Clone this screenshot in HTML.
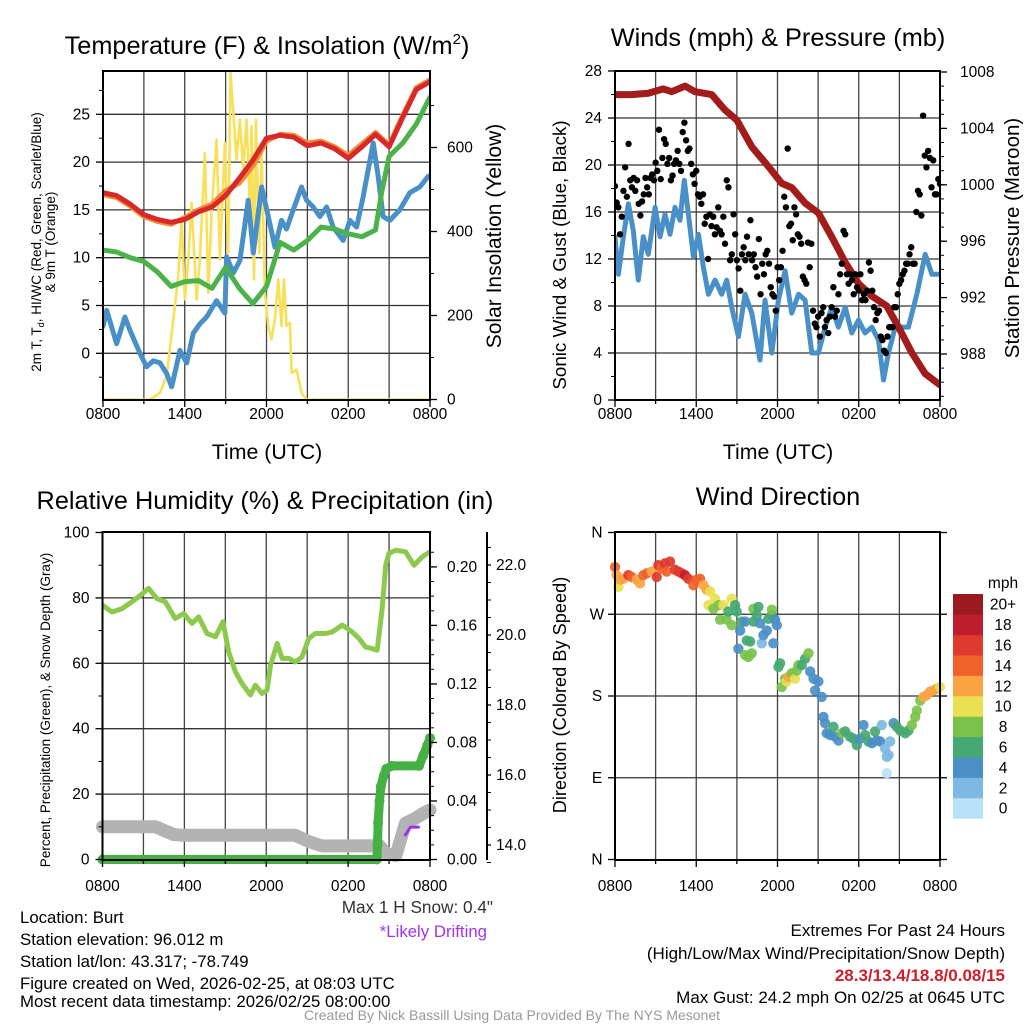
<!DOCTYPE html>
<html><head><meta charset="utf-8"><style>
html,body{margin:0;padding:0;background:#fff;}
svg{display:block;font-family:"Liberation Sans",Arial,sans-serif;}
</style></head><body>
<svg id="chart" width="1024" height="1024" viewBox="0 0 1024 1024" xmlns="http://www.w3.org/2000/svg">
<rect x="0" y="0" width="1024" height="1024" fill="#fff"/>
<text x="267" y="54" font-size="25.3" text-anchor="middle">Temperature (F) &amp; Insolation (W/m<tspan font-size="15" dy="-10">2</tspan><tspan dy="10">)</tspan></text>
<text x="778" y="46" font-size="25.3" text-anchor="middle">Winds (mph) &amp; Pressure (mb)</text>
<text x="265" y="509" font-size="25.3" text-anchor="middle">Relative Humidity (%) &amp; Precipitation (in)</text>
<text x="778" y="505" font-size="25.3" text-anchor="middle">Wind Direction</text>
<text x="267" y="459" font-size="21.3" text-anchor="middle">Time (UTC)</text>
<text x="778" y="459" font-size="21.3" text-anchor="middle">Time (UTC)</text>
<text transform="rotate(-90 41 242)" x="41" y="242" font-size="13.5" text-anchor="middle">2m T, T<tspan font-size="9" dy="3">d</tspan><tspan dy="-3">, HI/WC (Red, Green, Scarlet/Blue)</tspan></text>
<text transform="rotate(-90 55 242)" x="55" y="242" font-size="13.5" text-anchor="middle">&amp; 9m T (Orange)</text>
<text transform="rotate(-90 501 236)" x="501" y="236" font-size="21" text-anchor="middle">Solar Insolation (Yellow)</text>
<text transform="rotate(-90 566 255)" x="566" y="255" font-size="18.8" text-anchor="middle">Sonic Wind &amp; Gust (Blue, Black)</text>
<text transform="rotate(-90 1019 238)" x="1019" y="238" font-size="20.5" text-anchor="middle">Station Pressure (Maroon)</text>
<text transform="rotate(-90 50 710)" x="50" y="710" font-size="13.5" text-anchor="middle">Percent, Precipitation (Green), &amp; Snow Depth (Gray)</text>
<text transform="rotate(-90 566 695)" x="566" y="695" font-size="18.2" text-anchor="middle">Direction (Colored By Speed)</text>
<text x="493" y="913" font-size="17.2" fill="#333" text-anchor="end">Max 1 H Snow: 0.4"</text>
<text x="487" y="937" font-size="16.8" fill="#a233f0" text-anchor="end">*Likely Drifting</text>
<g font-size="16.8">
<text x="20" y="923">Location: Burt</text>
<text x="20" y="945">Station elevation: 96.012 m</text>
<text x="20" y="967">Station lat/lon: 43.317; -78.749</text>
<text x="20" y="989">Figure created on Wed, 2026-02-25, at 08:03 UTC</text>
<text x="20" y="1007">Most recent data timestamp: 2026/02/25 08:00:00</text>
</g>
<g font-size="17" text-anchor="end">
<text x="1005" y="936">Extremes For Past 24 Hours</text>
<text x="1005" y="959">(High/Low/Max Wind/Precipitation/Snow Depth)</text>
<text x="1005" y="981" font-weight="bold" fill="#d0202a">28.3/13.4/18.8/0.08/15</text>
<text x="1005" y="1003">Max Gust: 24.2 mph On 02/25 at 0645 UTC</text>
</g>
<text x="512" y="1020" font-size="14" fill="#999" text-anchor="middle">Created By Nick Bassill Using Data Provided By The NYS Mesonet</text>
<text x="1003" y="588" font-size="15.5" text-anchor="middle">mph</text>
<g id="layer"></g>
</svg>
<script>
// ---------- data ----------
const timeTickLabels = ["0800","1400","2000","0200","0800"];
const timeTickHours = [0,6,12,18,24];
const tempTicks = [0,5,10,15,20,25];
const insolTicks = [0,200,400,600];
const windTicks = [0,4,8,12,16,20,24,28];
const presTicks = [988,992,996,1000,1004,1008];
const rhTicks = [0,20,40,60,80,100];
const precipTicks = [0,0.04,0.08,0.12,0.16,0.20];
const snowTicks = [14,16,18,20,22];
const dirTicks = [0,90,180,270,360];
const dirTickLabels = ["N","E","S","W","N"];
const speedBins = ["0","2","4","6","8","10","12","14","16","18","20+"];
const speedColors = ["#b8e2f7","#7db9e3","#4a8fc6","#46a872","#7bc24a","#e9e053","#f8a443","#f0622a","#de3a2d","#be1e2d","#9b1a1f"];

const tHours = [0,1,2,3,4,5,6,7,8,9,10,11,12,13,14,15,16,17,18,19,20,21,22,23,24];
const tempRed = [16.8,16.5,15.6,14.5,14.0,13.7,14.0,14.8,15.3,16.5,18.3,20.2,22.5,22.8,22.6,21.7,22.0,21.4,20.4,21.6,22.9,21.6,24.7,27.6,28.4];
const tempOrange = [16.6,16.3,15.4,14.3,13.8,13.5,14.2,15.0,15.6,17.0,17.8,19.6,22.2,22.9,22.8,22.0,22.2,21.6,20.7,21.9,23.1,21.8,24.9,27.8,28.6];
const dewHours = [0,1,2,3,4,5,6,7,8,9,10,11,12,13,14,15,16,17,18,19,20,20.45,21,22,23,24];
const dewGreen = [10.8,10.6,10.0,9.6,8.5,7.0,7.5,7.6,6.8,9.0,6.8,5.2,7.0,11.6,10.8,11.8,13.2,13.0,12.5,12.2,12.9,16.8,20.6,22.0,24.0,26.8];
const wcHours = [0,0.27,1.0,1.61,1.98,2.71,3.2,3.69,4.18,4.67,5.04,5.65,6.14,6.63,7.12,7.6,8.34,8.95,9.07,9.56,10.05,10.66,11.03,11.64,12.13,12.62,13.1,13.47,13.96,14.57,14.94,15.43,15.92,16.41,16.89,17.63,18.12,18.61,19.1,19.83,20.2,20.56,21.05,21.78,22.52,23.25,23.86];
const wcBlue = [2.8,4.5,1.0,3.8,2.4,0.0,-1.4,-0.8,-1.0,-2.1,-3.5,0.3,-1.0,2.1,3.1,3.8,5.5,4.2,10.1,8.4,9.7,16.0,10.5,17.4,14.3,11.1,13.9,13.0,15.0,17.4,16.0,15.3,14.3,15.3,13.2,11.8,13.9,13.2,16.4,22.0,18.5,14.3,13.9,15.0,16.8,17.4,18.5];
const solHours = [0,3.45,4.18,4.67,5.16,5.53,5.77,6.01,6.26,6.5,6.87,7.11,7.48,7.73,7.97,8.34,8.58,8.95,9.19,9.36,9.56,9.8,10.05,10.29,10.54,10.78,10.9,11.08,11.22,11.47,11.64,11.88,12.13,12.37,12.62,12.86,13.1,13.28,13.47,13.72,13.84,14.21,14.57,14.94,24];
const solar = [0,0,16,56,190,294,428,238,333,468,238,333,587,254,452,619,333,611,349,778,683,571,667,548,667,452,651,286,667,349,587,254,175,143,190,286,175,286,175,183,63,71,16,0,0];

const sonicHours = [0,0.25,0.62,0.99,1.35,1.72,2.09,2.46,2.96,3.33,3.69,4.06,4.43,4.8,5.12,5.42,5.79,6.16,6.53,6.9,7.39,7.88,8.25,8.62,9.11,9.61,10.1,10.71,11.08,11.58,12.07,12.56,13.05,13.55,14.04,14.53,15.02,15.52,16.01,16.5,17.0,17.49,17.98,18.47,18.97,19.46,19.83,20.2,20.69,21.18,21.67,22.29,22.91,23.4,24];
const sonic = [13.9,10.7,13.9,16.7,14.4,10.2,13.9,12.4,16.4,13.9,15.8,14.1,16.4,15.3,18.7,15.8,12.2,14.1,11.3,9.0,10.2,9.0,10.2,7.9,5.4,9.0,7.4,3.4,8.5,4.0,8.5,11.0,7.4,9.0,8.5,4.0,4.0,6.2,7.9,6.2,7.9,5.7,6.8,5.7,6.2,5.1,1.7,4.0,6.2,6.2,6.2,9.0,12.4,10.7,10.7];
const presHours = [0,1.23,2.46,3.57,4.19,5.17,5.91,7.14,8.13,8.99,10.1,11.33,12.32,13.05,14.04,15.02,16.01,17.0,17.98,18.97,20.07,20.94,21.92,22.91,24];
const pressure = [1006.4,1006.4,1006.5,1006.8,1006.6,1007.0,1006.6,1006.4,1005.3,1004.6,1002.7,1001.3,1000.1,999.8,998.7,998.0,996.3,994.5,993.0,992.1,991.4,989.9,988.1,986.6,985.8];
const gusts = [18.2,16.8,16.4,14.1,15.6,17.8,19.8,17.3,21.8,18.7,18.1,18.9,17.8,18.7,16.7,15.7,16.9,17.5,18.9,18.1,17.5,18.9,19.2,18.7,20.2,19.5,23.0,18.8,20.6,22.2,21.8,20.1,20.6,18.7,19.1,20.1,20.4,21.2,20.1,19.5,22.8,23.6,22.1,21.2,21.4,20.1,19.2,18.4,19.5,17.5,17.3,16.7,17.5,15.0,15.6,12.0,15.8,14.8,15.6,14.1,14.7,16.4,14.4,14.1,15.6,13.3,18.7,18.1,11.9,12.4,15.8,14.1,11.9,11.2,9.3,12.4,13.0,11.9,13.9,12.4,15.3,11.9,12.4,11.3,10.5,13.7,9.0,11.6,10.7,12.4,12.7,11.6,9.6,9.0,8.8,7.6,11.3,10.2,11.3,12.7,17.3,16.4,21.4,14.8,15.0,13.6,16.4,15.8,14.1,13.9,13.3,10.5,10.2,9.9,13.4,11.3,13.3,7.6,6.5,6.2,7.1,5.4,7.4,7.9,6.2,6.8,5.7,7.1,7.9,9.6,7.1,7.6,9.0,10.7,11.6,14.4,14.1,10.7,9.9,10.7,10.2,9.0,10.7,9.6,9.3,10.7,8.5,9.0,8.5,9.3,11.7,11.0,9.3,7.9,6.8,7.4,7.6,5.4,5.1,4.2,4.0,5.4,6.2,6.2,6.2,7.9,7.9,9.0,9.9,10.2,10.7,11.0,11.6,11.6,12.4,13.0,11.6,11.6,16.0,17.8,17.5,15.7,24.2,20.8,19.8,21.2,20.6,18.1,20.4,17.5,17.5,18.8,18.4];

const rhHours = [0,0.69,1.42,2.15,2.64,3.38,3.99,4.6,5.33,5.95,6.56,7.05,7.66,8.27,8.83,9.25,9.74,10.23,10.84,11.2,11.69,12.06,12.31,12.8,13.16,13.65,14.14,14.63,15.12,15.6,16.34,16.83,17.57,18.3,18.79,19.28,19.77,20.13,20.5,20.75,20.99,21.48,22.21,22.83,23.44,24];
const rh = [77.8,75.7,76.7,78.8,80.3,82.9,79.8,78.8,73.7,75.2,72.2,74.2,69.1,68.1,72.7,63.5,57.4,53.8,50.3,53.3,50.8,51.8,59.4,66.1,61.5,61.5,60.4,62.0,67.6,69.1,69.1,69.6,71.7,69.6,67.6,65.0,64.5,64.0,76.8,90.0,93.6,94.6,94.1,90.0,92.6,94.1];
const precipHours = [0,20.1,20.15,20.2,20.3,20.4,20.6,20.8,21.2,23.2,23.5,23.8,24];
const precip = [0,0,0.01,0.025,0.04,0.05,0.057,0.062,0.064,0.064,0.071,0.078,0.083];
const snowHours = [0,3.9,4.6,5.2,5.8,14.1,15.1,16.1,20.3,20.8,21.5,22.2,22.9,23.7,24];
const snowDepth = [14.52,14.52,14.4,14.3,14.28,14.28,14.1,13.97,13.98,13.75,13.7,14.62,14.76,14.95,15.0];
const driftHours = [22.2,22.57,23.16];
const driftDepth = [14.29,14.51,14.51];

const dirHours = [0,.12,.25,.37,.62,.99,1.23,1.6,1.85,2.09,2.34,2.71,3.08,3.2,3.45,3.69,3.82,4.06,4.43,4.68,4.93,5.17,5.42,5.79,6.03,6.28,6.53,6.77,7.02,6.9,7.27,7.39,7.64,7.76,8.0,8.25,8.37,8.62,8.62,8.87,8.99,9.11,9.24,9.36,9.61,9.73,9.98,9.61,9.85,10.1,10.22,10.47,10.59,10.22,10.71,10.84,10.96,11.21,11.33,11.58,11.58,11.82,11.95,11.7,12.07,12.19,12.32,12.56,12.68,12.81,13.05,13.3,13.42,13.55,13.79,14.04,14.29,14.41,14.66,14.78,15.02,15.27,15.39,15.52,15.64,15.89,16.13,16.26,16.5,16.75,17.0,17.36,17.61,17.86,18.1,18.35,18.47,18.72,18.97,19.21,19.33,19.58,19.7,19.95,20.07,20.2,20.32,20.07,20.57,20.81,21.06,21.43,21.67,21.92,22.17,22.29,22.54,22.78,23.03,23.28,23.52,23.77,24];
const dirDeg = [322,313,300,308,309,313,311,308,304,313,315,317,311,324,320,326,317,328,319,317,315,313,309,302,308,309,302,297,295,280,276,287,280,264,280,264,273,287,258,280,273,232,252,262,262,241,240,225,223,227,276,269,278,262,260,238,247,252,265,269,275,264,258,238,212,216,190,199,196,201,205,199,208,214,214,221,227,207,199,186,196,179,157,150,139,137,146,135,131,139,141,135,133,126,133,148,137,130,128,141,131,130,148,122,113,115,130,95,150,146,142,139,142,148,157,164,175,179,181,185,186,188,190];
const dirSpeed = [14,12,10,12,13,16,14,13,12,14,14,13,17,16,14,17,15,17,16,17,16,18,16,14,14,15,12,12,10,10,9,10,8,8,10,8,6,10,8,7,6,4,4,6,5,6,6,8,8,8,8,7,6,6,4,3,4,4,6,7,8,4,4,4,6,6,8,9,10,12,9,10,8,8,7,7,8,5,4,4,4,4,4,4,4,4,6,5,4,8,7,6,6,6,5,4,6,6,4,6,4,4,2,2,2,2,2,1,4,6,6,6,6,8,8,8,9,12,13,13,13,12,10];

// ---------- scales ----------
const P1 = {l:103,r:430,t:71,b:400};
const P2 = {l:615,r:940,t:71,b:400};
const P3 = {l:102.5,r:430,t:532,b:860};
const P4 = {l:615,r:940,t:532,b:860};
const x1 = h => P1.l + h*(P1.r-P1.l)/24;
const x2 = h => P2.l + h*(P2.r-P2.l)/24;
const x3 = h => P3.l + h*(P3.r-P3.l)/24;
const x4 = h => P4.l + h*(P4.r-P4.l)/24;
const yT = v => 353.3 - v*9.56;
const yI = w => 399.5 - w*0.42;
const yW = v => 400 - v*11.75;
const yP = p => 72 + (1008-p)*14.1;
const yR = v => 859.5 - v*3.27;
const yPr = p => 859.5 - p*1463;
const ySn = s => 845 - (s-14)*35;
const yD = d => 859.5 - d*327/360;

const NS = 'http://www.w3.org/2000/svg';
const layer = document.getElementById('layer');
function mk(tag, attrs, parent, name){
  const el = document.createElementNS(NS, tag);
  for (const k in attrs) el.setAttribute(k, attrs[k]);
  
  
  (parent||layer).appendChild(el);
  return el;
}
function txt(x,y,s,size,anchor,name,fill){
  const t = mk('text',{x:x,y:y,'font-size':size,'text-anchor':anchor,fill:fill||'#000'},layer,name);
  t.textContent = s;
  return t;
}
function clip(id,P){
  const d = mk('defs',{},layer,'clip-defs');
  const c = mk('clipPath',{id:id},d,'clip-path');
  mk('rect',{x:P.l,y:P.t,width:P.r-P.l,height:P.b-P.t},c,'clip-rect');
}
function grid(P,ys,xf,name){
  for (let h=3; h<24; h+=3){
    mk('line',{x1:xf(h),x2:xf(h),y1:P.t,y2:P.b,stroke:'#444','stroke-width':1.3},layer,name+'-vgrid');
  }
  ys.forEach(y=>{ if(y>P.t+1 && y<P.b-1) mk('line',{x1:P.l,x2:P.r,y1:y,y2:y,stroke:'#333','stroke-width':1.3},layer,name+'-hgrid'); });
}
function frame(P,name){
  mk('rect',{x:P.l,y:P.t,width:P.r-P.l,height:P.b-P.t,fill:'none',stroke:'#000','stroke-width':2},layer,name+'-frame');
}
function xAxis(P,xf,ly,name){
  for (let h=0; h<=24; h+=3){
    const major = h%6===0;
    mk('line',{x1:xf(h),x2:xf(h),y1:P.b,y2:P.b+(major?7:4),stroke:'#000','stroke-width':1.3},layer,name+'-x-tick');
  }
  timeTickHours.forEach((h,i)=>txt(xf(h),ly,timeTickLabels[i],15.5,'middle',name+'-x-tick-label'));
}
function yAxisL(P,ticks,labels,yf,minors,name){
  minors.forEach(v=>mk('line',{x1:P.l-4,x2:P.l,y1:yf(v),y2:yf(v),stroke:'#000','stroke-width':1},layer,name+'-minor-tick'));
  ticks.forEach((v,i)=>{
    mk('line',{x1:P.l-7,x2:P.l,y1:yf(v),y2:yf(v),stroke:'#000','stroke-width':1.3},layer,name+'-tick');
    txt(P.l-13,yf(v)+5,labels[i],15.5,'end',name+'-tick-label');
  });
}
function yAxisR(xa,ticks,labels,yf,minors,lx,name,tl){
  const L = tl||7;
  minors.forEach(v=>mk('line',{x1:xa,x2:xa+4,y1:yf(v),y2:yf(v),stroke:'#000','stroke-width':1},layer,name+'-minor-tick'));
  ticks.forEach((v,i)=>{
    mk('line',{x1:xa,x2:xa+L,y1:yf(v),y2:yf(v),stroke:'#000','stroke-width':1.3},layer,name+'-tick');
    txt(lx,yf(v)+5,labels[i],15.5,'start',name+'-tick-label');
  });
}
function pline(hs,vs,xf,yf,color,w,cp,name){
  const pts = hs.map((h,i)=>xf(h).toFixed(1)+','+yf(vs[i]).toFixed(1)).join(' ');
  return mk('polyline',{points:pts,fill:'none',stroke:color,'stroke-width':w,'stroke-linejoin':'round','stroke-linecap':'round','clip-path':cp?'url(#'+cp+')':''},layer,name);
}
function range(a,b,s){const r=[];for(let v=a;v<=b+1e-9;v+=s)r.push(+v.toFixed(4));return r;}

// ---------- Panel 1 ----------
clip('c1',P1);
grid(P1,tempTicks.map(yT),x1,'temp');
pline(solHours,solar,x1,yI,'#f9e05a',2.6,'c1','insolation-line');
pline(wcHours,wcBlue,x1,yT,'#4a90c8',5,'c1','windchill-line');
pline(dewHours,dewGreen,x1,yT,'#4bb34a',5,'c1','dewpoint-line');
pline(tHours,tempOrange,x1,yT,'#f48a37',5,'c1','temp-9m-line');
pline(tHours,tempRed,x1,yT,'#d7292a',5,'c1','temp-2m-line');
frame(P1,'temp');
xAxis(P1,x1,419,'temp');
yAxisL(P1,tempTicks,tempTicks.map(String),yT,[-2.5,2.5,7.5,12.5,17.5,22.5,27.5],'temp-y');
yAxisR(P1.r,insolTicks,insolTicks.map(String),yI,[100,300,500,700],447,'insolation-y');

// ---------- Panel 2 ----------
clip('c2',P2);
grid(P2,windTicks.map(yW),x2,'wind');
pline(sonicHours,sonic,x2,yW,'#4a90c8',5,'c2','sonic-wind-line');
pline(presHours,pressure,x2,yP,'#a31c1c',7,'c2','pressure-line');
gusts.forEach((g,i)=>{
  const h = i*24/(gusts.length-1);
  const c = mk('circle',{cx:x2(h),cy:yW(g),r:3.2,fill:'#000','clip-path':'url(#c2)'},layer,'gust-point');
});
frame(P2,'wind');
xAxis(P2,x2,419,'wind');
yAxisL(P2,windTicks,windTicks.map(String),yW,range(2,26,4),'wind-y');
yAxisR(P2.r,presTicks,presTicks.map(String),yP,range(985,1008,1),960,'pressure-y');

// ---------- Panel 3 ----------
clip('c3',P3);
grid(P3,rhTicks.map(yR),x3,'rh');
pline(rhHours,rh,x3,yR,'#8cc94c',5,'c3','rh-line');
pline(snowHours,snowDepth,x3,ySn,'#b3b3b3',13,'','snow-depth-line');
pline(precipHours,precip,x3,yPr,'#45b144',9,'','precip-line');
precipHours.forEach((h,i)=>{
  mk('circle',{cx:x3(h),cy:yPr(precip[i]),r:5,fill:'#45b144'},layer,'precip-point');
});
pline(driftHours,driftDepth,x3,ySn,'#9b30f0',3,'','drifting-snow-line');
frame(P3,'rh');
xAxis(P3,x3,891,'rh');
yAxisL(P3,rhTicks,rhTicks.map(String),yR,range(10,90,20),'rh-y');
yAxisR(P3.r,precipTicks,precipTicks.map(v=>v.toFixed(2)),yPr,range(0.01,0.21,0.01),447,'precip-y');
mk('line',{x1:487,x2:487,y1:532,y2:860,stroke:'#000','stroke-width':2},layer,'snow-axis-line');
yAxisR(487,snowTicks,snowTicks.map(v=>v.toFixed(1)),ySn,range(13.5,22.5,0.5),496,'snow-y',4);

// ---------- Panel 4 ----------
clip('c4',P4);
grid(P4,[90,180,270].map(yD),x4,'wdir');
dirHours.forEach((h,i)=>{
  const bin = Math.min(10, Math.floor(dirSpeed[i]/2));
  const c = mk('circle',{cx:x4(h),cy:yD(dirDeg[i]),r:5.2,fill:speedColors[bin],'fill-opacity':0.92},layer,'wind-direction-point');
});
frame(P4,'wdir');
xAxis(P4,x4,891,'wdir');
dirTicks.forEach((d,i)=>{
  mk('line',{x1:P4.l-7,x2:P4.l,y1:yD(d),y2:yD(d),stroke:'#000','stroke-width':1.3},layer,'wdir-y-tick');
  txt(P4.l-18,yD(d)+5,dirTickLabels[i],15.5,'middle','wdir-y-tick-label');
  mk('line',{x1:P4.r,x2:P4.r+7,y1:yD(d),y2:yD(d),stroke:'#000','stroke-width':1.3},layer,'wdir-right-tick');
});

// ---------- Colorbar ----------
const cbTop = 594, cbH = 20.4;
speedBins.forEach((lab,i)=>{
  const k = speedBins.length-1-i;
  mk('rect',{x:953,y:cbTop+k*cbH,width:30,height:cbH+0.3,fill:speedColors[i]},layer,'colorbar-swatch');
  txt(1003,cbTop+k*cbH+cbH/2+5.5,lab,15.5,'middle','colorbar-label');
});
</script>
</body></html>
